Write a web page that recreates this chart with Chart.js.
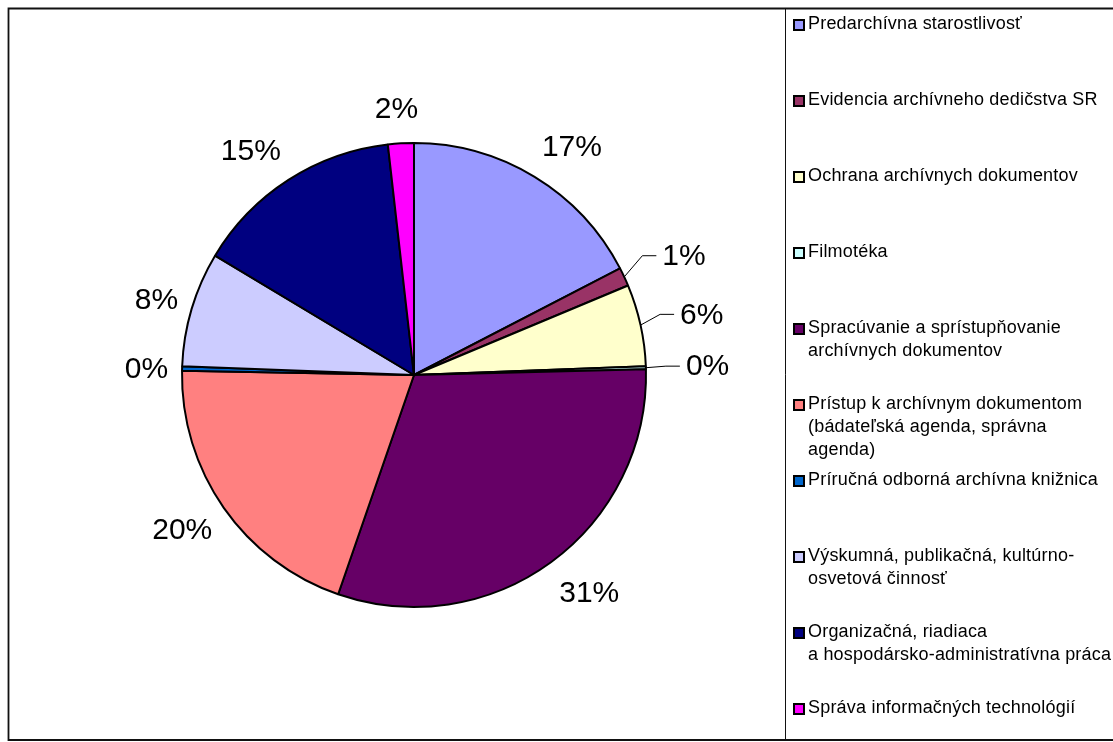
<!DOCTYPE html>
<html><head><meta charset="utf-8">
<script src="https://cdn.jsdelivr.net/npm/chart.js@4/dist/chart.umd.min.js"></script>
<style>html,body{margin:0;padding:0;background:#fff;overflow:hidden}canvas{display:block}</style>
</head><body>
<canvas id="c" width="1113" height="742"></canvas>
<script>
const categories = [
  "Predarchívna starostlivosť",
  "Evidencia archívneho dedičstva SR",
  "Ochrana archívnych dokumentov",
  "Filmotéka",
  "Spracúvanie a sprístupňovanie\narchívnych dokumentov",
  "Prístup k archívnym dokumentom\n(bádateľská agenda, správna\nagenda)",
  "Príručná odborná archívna knižnica",
  "Výskumná, publikačná, kultúrno-\nosvetová činnosť",
  "Organizačná, riadiaca\na hospodársko-administratívna práca",
  "Správa informačných technológií"
];
const values = [17.4, 1.3, 5.7, 0.2, 30.7, 20.0, 0.3, 8.0, 14.6, 1.8];
const colors = ["#9999FF","#993366","#FFFFCC","#CCFFFF","#660066","#FF8080","#0066CC","#CCCCFF","#000080","#FF00FF"];

const FONT = '"Liberation Sans", Arial, sans-serif';

const framePlugin = {
  id: 'frame',
  beforeDraw(chart) {
    const ctx = chart.ctx;
    ctx.save();
    ctx.fillStyle = '#fff';
    ctx.fillRect(0, 0, chart.width, chart.height);
    ctx.strokeStyle = '#111';
    ctx.lineWidth = 1.8;
    ctx.beginPath();
    ctx.moveTo(chart.width + 5, 8.5);
    ctx.lineTo(8.5, 8.5);
    ctx.lineTo(8.5, 740);
    ctx.lineTo(chart.width + 5, 740);
    ctx.stroke();
    ctx.lineWidth = 1;
    ctx.beginPath();
    ctx.moveTo(785.5, 8.5);
    ctx.lineTo(785.5, 740);
    ctx.stroke();
    ctx.restore();
  }
};

const legendPlugin = {
  id: 'sideLegend',
  afterDraw(chart) {
    const ctx = chart.ctx;
    const labels = chart.data.labels;
    const bg = chart.data.datasets[0].backgroundColor;
    ctx.save();
    ctx.font = '18px ' + FONT;
    ctx.letterSpacing = '0.2px';
    ctx.textBaseline = 'middle';
    const top = 24, pitch = 76, lh = 23;
    labels.forEach((lab, i) => {
      const y = top + i * pitch;
      ctx.fillStyle = bg[i];
      ctx.fillRect(794, y - 4, 10, 10);
      ctx.strokeStyle = '#000';
      ctx.lineWidth = 2;
      ctx.strokeRect(794, y - 4, 10, 10);
      ctx.fillStyle = '#000';
      lab.split('\n').forEach((line, k) => {
        ctx.fillText(line, 808, y + k * lh);
      });
    });
    ctx.restore();
  }
};

const pctPlugin = {
  id: 'pctLabels',
  afterDatasetsDraw(chart) {
    const ctx = chart.ctx;
    const meta = chart.getDatasetMeta(0);
    const data = chart.data.datasets[0].data;
    const total = data.reduce((a, b) => a + b, 0);
    ctx.save();
    ctx.font = '30px ' + FONT;
    ctx.fillStyle = '#000';
    ctx.textBaseline = 'middle';
    meta.data.forEach((arc, i) => {
      const p = arc.getProps(['x','y','startAngle','endAngle','outerRadius'], true);
      const mid = (p.startAngle + p.endAngle) / 2;
      const dx = Math.cos(mid), dy = Math.sin(mid);
      const pct = Math.round(data[i] / total * 100);
      const txt = pct + '%';
      let deg = (mid + Math.PI / 2) * 180 / Math.PI;
      deg = ((deg % 360) + 360) % 360;
      const r = p.outerRadius;
      if (pct < 7 && deg > 30 && deg < 150) {
        const sx = p.x + r * dx, sy = p.y + r * dy;
        const ex = p.x + (r + 20) * dx, ey = p.y + (r + 50) * dy;
        ctx.strokeStyle = '#000';
        ctx.lineWidth = 1;
        ctx.beginPath();
        ctx.moveTo(sx, sy);
        ctx.lineTo(ex, ey);
        ctx.lineTo(ex + 14, ey);
        ctx.stroke();
        ctx.textAlign = 'left';
        ctx.fillText(txt, ex + 20, ey + 1);
      } else {
        const w = ctx.measureText(txt).width;
        const side = Math.max(-1, Math.min(1, dx * 3));
        const lx = p.x + (r + 14) * dx + side * w / 2;
        const ly = p.y + (r + 36) * dy;
        ctx.textAlign = 'center';
        ctx.fillText(txt, lx, ly + 2);
      }
    });
    ctx.restore();
  }
};

new Chart(document.getElementById('c'), {
  type: 'pie',
  data: {
    labels: categories,
    datasets: [{
      data: values,
      backgroundColor: colors,
      borderColor: '#000',
      borderWidth: 2
    }]
  },
  options: {
    responsive: false,
    animation: false,
    devicePixelRatio: 1,
    layout: { padding: { left: 181, right: 466, top: 142, bottom: 134 } },
    plugins: { legend: { display: false }, tooltip: { enabled: false } }
  },
  plugins: [framePlugin, pctPlugin, legendPlugin]
});
</script>
</body></html>
